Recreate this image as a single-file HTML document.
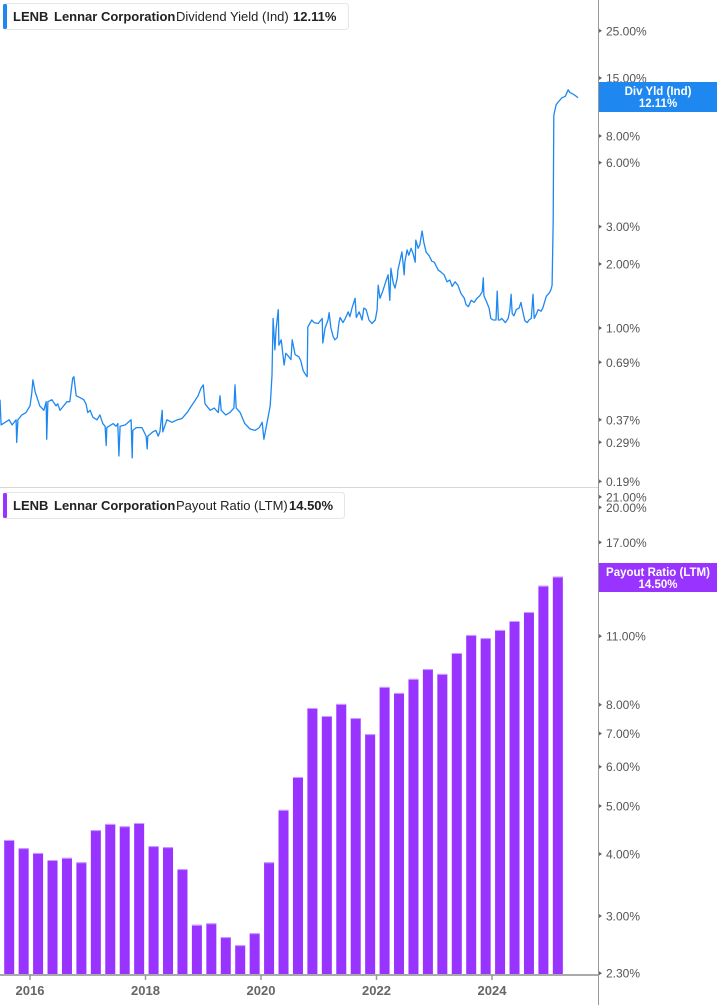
<!DOCTYPE html>
<html><head><meta charset="utf-8"><style>
html,body{margin:0;padding:0;background:#fff;}
svg{display:block;font-family:"Liberation Sans",Arial,sans-serif;}
</style></head><body>
<svg id="chart" width="717" height="1005" viewBox="0 0 717 1005">
<line x1="0" y1="487.5" x2="598" y2="487.5" stroke="#d8d8d8" stroke-width="1"/>
<line x1="598.5" y1="0" x2="598.5" y2="1005" stroke="#999" stroke-width="1"/>
<line x1="0" y1="975" x2="598" y2="975" stroke="#aaa" stroke-width="2"/>
<g id="yield-axis"></g>
<g id="payout-axis"></g>
<g id="x-axis"></g>
<g id="bars"></g>
<path id="yield-line" fill="none" stroke="#1e88f0" stroke-width="1.3" stroke-linejoin="round"/>

<g>
<rect x="3.5" y="3.5" width="345" height="26" rx="3" fill="#fff" stroke="#e6e6e6"/>
<rect x="3" y="4" width="4" height="25" rx="1.5" fill="#1e88f0"/>
<text x="13" y="21" font-size="13" font-weight="bold" fill="#222">LENB</text>
<text x="54" y="21" font-size="13" font-weight="bold" fill="#222">Lennar Corporation</text>
<text x="176" y="21" font-size="13" fill="#222">Dividend Yield (Ind)</text>
<text x="293" y="21" font-size="13" font-weight="bold" fill="#222">12.11%</text>
</g>
<g>
<rect x="3.5" y="492.5" width="341" height="26" rx="3" fill="#fff" stroke="#e6e6e6"/>
<rect x="3" y="493" width="4" height="25" rx="1.5" fill="#9933ff"/>
<text x="13" y="510" font-size="13" font-weight="bold" fill="#222">LENB</text>
<text x="54" y="510" font-size="13" font-weight="bold" fill="#222">Lennar Corporation</text>
<text x="176" y="510" font-size="13" fill="#222">Payout Ratio (LTM)</text>
<text x="289" y="510" font-size="13" font-weight="bold" fill="#222">14.50%</text>
</g>
<g>
<rect x="599" y="82" width="118" height="30" fill="#1e88f0"/>
<text x="658" y="95" font-size="11.5" font-weight="bold" fill="#fff" text-anchor="middle">Div Yld (Ind)</text>
<text x="658" y="107" font-size="11.5" font-weight="bold" fill="#fff" text-anchor="middle">12.11%</text>
</g>
<g>
<rect x="599" y="563" width="118" height="29" fill="#9933ff"/>
<text x="658" y="576" font-size="11.5" font-weight="bold" fill="#fff" text-anchor="middle">Payout Ratio (LTM)</text>
<text x="658" y="588" font-size="11.5" font-weight="bold" fill="#fff" text-anchor="middle">14.50%</text>
</g>
</svg>
<script>
const yieldTicks = [25, 15, 8, 6, 3, 2, 1, 0.69, 0.37, 0.29, 0.19];
const payoutTicks = [21, 20, 17, 11, 8, 7, 6, 5, 4, 3, 2.3];
const yearTicks = [2016, 2018, 2020, 2022, 2024];
const barDates = [2015.64,2015.89,2016.14,2016.39,2016.64,2016.89,2017.14,2017.39,2017.64,2017.89,2018.14,2018.39,2018.64,2018.89,2019.14,2019.39,2019.64,2019.89,2020.14,2020.39,2020.64,2020.89,2021.14,2021.39,2021.64,2021.89,2022.14,2022.39,2022.64,2022.89,2023.14,2023.39,2023.64,2023.89,2024.14,2024.39,2024.64,2024.89,2025.14];
const payoutValues = [4.27,4.11,4.02,3.89,3.93,3.85,4.47,4.60,4.55,4.62,4.15,4.13,3.73,2.88,2.90,2.72,2.62,2.77,3.85,4.91,5.72,7.88,7.59,8.03,7.52,6.98,8.69,8.45,9.02,9.44,9.23,10.17,11.06,10.9,11.32,11.8,12.3,13.9,14.5];
const yieldDates = [2015.48,2015.50,2015.57,2015.64,2015.69,2015.76,2015.77,2015.79,2015.86,2015.93,2016.00,2016.03,2016.05,2016.09,2016.17,2016.24,2016.28,2016.29,2016.31,2016.38,2016.45,2016.48,2016.52,2016.55,2016.64,2016.69,2016.74,2016.76,2016.80,2016.87,2016.93,2016.97,2017.00,2017.04,2017.09,2017.16,2017.21,2017.26,2017.30,2017.32,2017.33,2017.44,2017.49,2017.52,2017.54,2017.56,2017.65,2017.75,2017.77,2017.78,2017.84,2017.94,2018.01,2018.03,2018.04,2018.13,2018.18,2018.22,2018.25,2018.29,2018.30,2018.37,2018.46,2018.55,2018.63,2018.72,2018.77,2018.82,2018.91,2018.96,2019.00,2019.03,2019.12,2019.19,2019.26,2019.29,2019.31,2019.39,2019.46,2019.53,2019.55,2019.57,2019.64,2019.72,2019.81,2019.90,2019.97,2020.02,2020.05,2020.16,2020.19,2020.21,2020.24,2020.26,2020.30,2020.31,2020.35,2020.38,2020.40,2020.43,2020.47,2020.52,2020.54,2020.59,2020.66,2020.69,2020.73,2020.76,2020.80,2020.81,2020.88,2020.92,2020.99,2021.06,2021.07,2021.11,2021.16,2021.18,2021.21,2021.25,2021.28,2021.32,2021.35,2021.37,2021.42,2021.46,2021.51,2021.54,2021.58,2021.63,2021.65,2021.70,2021.75,2021.78,2021.82,2021.87,2021.92,2021.98,2022.01,2022.03,2022.06,2022.10,2022.17,2022.20,2022.23,2022.25,2022.29,2022.32,2022.36,2022.37,2022.41,2022.44,2022.48,2022.49,2022.53,2022.56,2022.60,2022.63,2022.67,2022.68,2022.72,2022.75,2022.79,2022.82,2022.86,2022.91,2022.96,2023.00,2023.07,2023.12,2023.17,2023.22,2023.27,2023.31,2023.36,2023.41,2023.46,2023.52,2023.55,2023.59,2023.64,2023.69,2023.74,2023.79,2023.83,2023.85,2023.86,2023.91,2023.95,2023.98,2024.02,2024.07,2024.09,2024.11,2024.14,2024.17,2024.23,2024.28,2024.31,2024.33,2024.35,2024.38,2024.42,2024.47,2024.50,2024.54,2024.57,2024.61,2024.64,2024.68,2024.71,2024.73,2024.76,2024.80,2024.85,2024.88,2024.94,2024.99,2025.02,2025.04,2025.06,2025.07,2025.11,2025.14,2025.21,2025.27,2025.32,2025.35,2025.40,2025.44,2025.49];
const yieldValues = [0.46,0.35,0.36,0.37,0.35,0.37,0.29,0.37,0.39,0.40,0.43,0.49,0.57,0.50,0.43,0.41,0.45,0.30,0.45,0.46,0.43,0.44,0.41,0.42,0.45,0.45,0.58,0.59,0.48,0.47,0.46,0.44,0.40,0.41,0.38,0.37,0.39,0.355,0.345,0.28,0.34,0.355,0.345,0.355,0.25,0.345,0.35,0.37,0.245,0.33,0.34,0.34,0.31,0.27,0.31,0.325,0.33,0.31,0.325,0.41,0.325,0.37,0.36,0.37,0.375,0.40,0.42,0.44,0.48,0.52,0.54,0.44,0.41,0.42,0.40,0.48,0.41,0.39,0.40,0.42,0.54,0.42,0.40,0.355,0.335,0.33,0.34,0.36,0.30,0.43,0.60,1.11,0.79,0.98,1.22,0.83,0.88,0.75,0.67,0.76,0.74,0.71,0.88,0.75,0.73,0.70,0.63,0.61,0.59,1.01,1.09,1.06,1.05,1.11,0.85,1.00,1.09,1.18,1.00,0.91,0.88,0.90,1.06,1.12,1.06,1.11,1.19,1.13,1.25,1.38,1.12,1.19,1.09,1.24,1.22,1.09,1.05,1.09,1.22,1.59,1.38,1.47,1.68,1.78,1.35,1.91,1.63,1.54,1.72,1.87,2.09,2.28,1.78,2.04,2.33,2.20,2.37,2.25,2.04,2.59,2.37,2.46,2.86,2.52,2.27,2.19,2.06,2.04,1.87,1.83,1.78,1.65,1.68,1.57,1.65,1.59,1.46,1.38,1.29,1.26,1.35,1.32,1.38,1.42,1.48,1.72,1.42,1.32,1.24,1.11,1.09,1.09,1.49,1.09,1.09,1.11,1.06,1.11,1.22,1.44,1.17,1.14,1.22,1.24,1.32,1.17,1.08,1.06,1.09,1.11,1.44,1.11,1.15,1.22,1.20,1.24,1.41,1.46,1.51,1.59,3.22,10.0,11.2,11.5,12.1,12.3,13.2,12.8,12.6,12.4,12.11];

const NS = "http://www.w3.org/2000/svg";
function xScale(t){ return 30 + (t - 2016) * 57.75; }
function yYield(v){ return 328 - Math.log10(v) * 212.6; }
function yPayout(v){ return 916 - Math.log10(v / 3) * 496; }
function mk(tag, attrs, parent){ const e = document.createElementNS(NS, tag); for (const k in attrs) e.setAttribute(k, attrs[k]); parent.appendChild(e); return e; }

const ya = document.getElementById('yield-axis');
yieldTicks.forEach(v => {
  const y = yYield(v);
  const m = mk('path', {d:`M599 ${y-2}L602 ${y}L599 ${y+2}Z`, fill:'#666'}, ya);
  
  
  const t = mk('text', {x:606, y:y+4.5, 'font-size':12, fill:'#555'}, ya);
  
  
  t.textContent = v.toFixed(2) + '%';
});
const pa = document.getElementById('payout-axis');
payoutTicks.forEach(v => {
  const y = yPayout(v);
  const m = mk('path', {d:`M599 ${y-2}L602 ${y}L599 ${y+2}Z`, fill:'#666'}, pa);
  
  
  const t = mk('text', {x:606, y:y+4.5, 'font-size':12, fill:'#555'}, pa);
  
  
  t.textContent = v.toFixed(2) + '%';
});
const xa = document.getElementById('x-axis');
yearTicks.forEach(yr => {
  const x = xScale(yr);
  const l = mk('line', {x1:x, y1:975, x2:x, y2:980, stroke:'#999', 'stroke-width':1.5}, xa);
  
  
  const t = mk('text', {x:x, y:995, 'font-size':13, 'font-weight':'bold', fill:'#666', 'text-anchor':'middle'}, xa);
  
  
  t.textContent = yr;
});
const bg = document.getElementById('bars');
barDates.forEach((t, i) => {
  const x = xScale(t), y = yPayout(payoutValues[i]);
  const r = mk('rect', {x:x-5, y:y, width:10, height:974-y, fill:'#9933ff'}, bg);
  
  
  const c = mk('rect', {x:x-5, y:y, width:10, height:1, fill:'#c9a0ff'}, bg);
  
  
});
document.getElementById('yield-line').setAttribute('d',
  yieldDates.map((t, i) => (i ? 'L' : 'M') + xScale(t).toFixed(1) + ' ' + yYield(yieldValues[i]).toFixed(1)).join(''));
</script>
</body></html>
